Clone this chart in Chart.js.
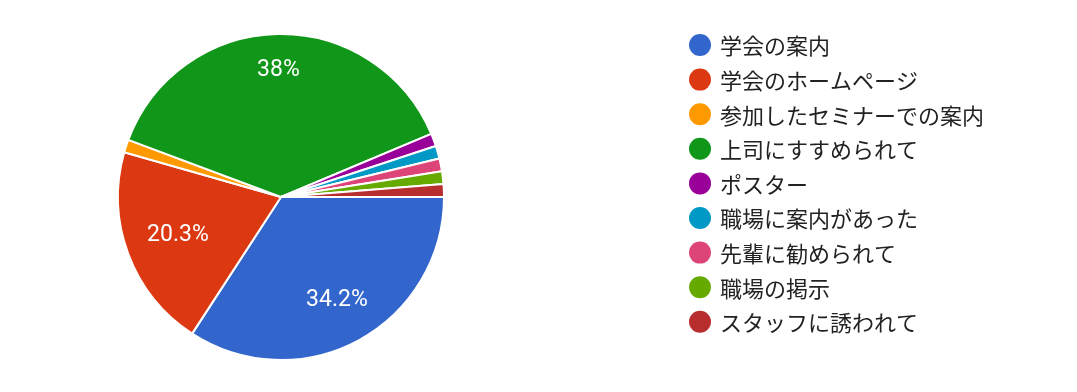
<!DOCTYPE html>
<html>
<head>
<meta charset="utf-8">
<script src="https://cdn.jsdelivr.net/npm/chart.js@4.4.0/dist/chart.umd.min.js"></script>
<style>
  html, body { margin: 0; padding: 0; background: #fff; }
  #wrap { width: 1077px; height: 392px; position: relative; }
</style>
</head>
<body>
<div id="wrap"><canvas id="pie" width="1077" height="392"></canvas></div>
<script>
// responses per answer (79 total)
const labels = [
  '学会の案内',
  '学会のホームページ',
  '参加したセミナーでの案内',
  '上司にすすめられて',
  'ポスター',
  '職場に案内があった',
  '先輩に勧められて',
  '職場の掲示',
  'スタッフに誘われて'
];
const counts = [27, 16, 1, 30, 1, 1, 1, 1, 1];
const colors = ['#3366cc', '#dc3912', '#ff9900', '#109618', '#990099', '#0099c6', '#dd4477', '#66aa00', '#b82e2e'];

// label distance from centre, as a share of radius (google places them unevenly)
const labelRadius = { 0: 0.72, 1: 0.675, 3: 0.78 };

const fmtPct = (v) => parseFloat(v.toPrecision(3)) + '%';

const sliceLabels = {
  id: 'sliceLabels',
  afterDatasetsDraw(chart) {
    const ctx = chart.ctx;
    const meta = chart.getDatasetMeta(0);
    const total = counts.reduce((s, v) => s + v, 0);
    ctx.save();
    ctx.fillStyle = '#ffffff';
    ctx.font = '23px Roboto, Arial, sans-serif';
    ctx.textAlign = 'center';
    ctx.textBaseline = 'middle';
    meta.data.forEach((arc, i) => {
      const share = counts[i] / total * 100;
      if (share < 5) return;
      const mid = (arc.startAngle + arc.endAngle) / 2;
      const r = arc.outerRadius * (labelRadius[i] || 0.7);
      ctx.fillText(fmtPct(share), arc.x + Math.cos(mid) * r, arc.y + Math.sin(mid) * r);
    });
    ctx.restore();
  }
};

const sideLegend = {
  id: 'sideLegend',
  afterDraw(chart) {
    const ctx = chart.ctx;
    ctx.save();
    ctx.font = '22px "Noto Sans CJK JP", sans-serif';
    ctx.textBaseline = 'middle';
    ctx.textAlign = 'left';
    labels.forEach((t, i) => {
      const y = 45 + i * 34.6;
      ctx.beginPath();
      ctx.arc(700, y, 11, 0, Math.PI * 2);
      ctx.fillStyle = colors[i];
      ctx.fill();
      ctx.fillStyle = '#222222';
      ctx.fillText(t, 720, y + 1);
    });
    ctx.restore();
  }
};

new Chart(document.getElementById('pie'), {
  type: 'pie',
  data: {
    labels: labels,
    datasets: [{
      data: counts,
      backgroundColor: colors,
      borderColor: '#ffffff',
      borderWidth: 2
    }]
  },
  options: {
    responsive: false,
    animation: false,
    rotation: 90,
    layout: { padding: { left: 117, right: 632, top: 33, bottom: 31 } },
    plugins: {
      legend: { display: false },
      tooltip: { enabled: false }
    }
  },
  plugins: [sliceLabels, sideLegend]
});
</script>
</body>
</html>
